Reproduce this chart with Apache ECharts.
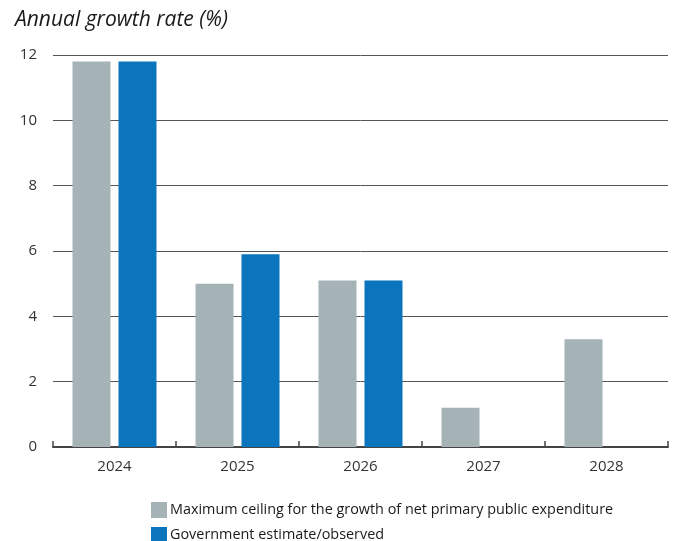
<!DOCTYPE html>
<html>
<head>
<meta charset="utf-8">
<script src="https://cdn.jsdelivr.net/npm/echarts@6/dist/echarts.min.js"></script>
<style>
  html, body { margin: 0; padding: 0; background: #fff; }
  #chart { width: 680px; height: 541px; }
</style>
</head>
<body>
<div id="chart"></div>
<script>
// Annual growth rate of net primary public expenditure, 2024-2028
const years = ['2024', '2025', '2026', '2027', '2028'];
const ceilingValues = [11.8, 5.0, 5.1, 1.2, 3.3];
const governmentValues = [11.8, 5.9, 5.1, null, null];
const yTicks = [0, 2, 4, 6, 8, 10, 12];

const ceilingName = 'Maximum ceiling for the growth of net primary public expenditure';
const governmentName = 'Government estimate/observed';

const FONT = '"Open Sans", "Noto Sans", sans-serif';

const legendText = { fontFamily: FONT, fontSize: 14.4, color: '#1a1a1a', padding: [0, 0, 0, -2] };
const legendBase = { orient: 'vertical', left: 146, itemWidth: 16, itemHeight: 16, icon: 'rect', textStyle: legendText };

const chart = echarts.init(document.getElementById('chart'), null, { renderer: 'canvas' });

chart.setOption({
  animation: false,
  textStyle: { fontFamily: FONT },
  title: {
    text: 'Annual growth rate (%)',
    left: 10,
    top: 5,
    textStyle: {
      fontFamily: FONT,
      fontStyle: 'italic',
      fontWeight: 'normal',
      fontSize: 21,
      color: '#1a1a1a'
    }
  },
  legend: [
    Object.assign({}, legendBase, { top: 497, data: [ceilingName] }),
    Object.assign({}, legendBase, { top: 522, data: [governmentName] })
  ],
  grid: { left: 53, right: 12, top: 55, bottom: 94, containLabel: false },
  xAxis: {
    type: 'category',
    data: years,
    boundaryGap: true,
    axisLine: { lineStyle: { color: '#444', width: 2 } },
    axisTick: { show: true, inside: true, length: 6, alignWithLabel: false, lineStyle: { color: '#444', width: 1.5 } },
    axisLabel: { fontFamily: FONT, fontSize: 15, color: '#333', margin: 12 }
  },
  yAxis: {
    type: 'value',
    min: yTicks[0],
    max: yTicks[yTicks.length - 1],
    interval: 2,
    axisLine: { show: false },
    axisTick: { show: false },
    axisLabel: { fontFamily: FONT, fontSize: 15, color: '#333', margin: 16 },
    splitLine: { lineStyle: { color: '#555', width: 1 } }
  },
  series: [
    {
      name: ceilingName,
      type: 'bar',
      data: ceilingValues,
      barWidth: 38,
      barGap: '21%',
      itemStyle: { color: '#A5B3B7' }
    },
    {
      name: governmentName,
      type: 'bar',
      data: governmentValues,
      barWidth: 38,
      itemStyle: { color: '#0A75BD' }
    }
  ]
});
</script>
</body>
</html>
